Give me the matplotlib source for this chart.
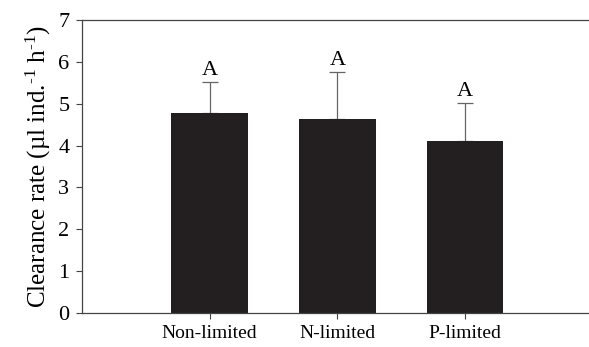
import matplotlib
matplotlib.use('Agg')
import matplotlib.pyplot as plt
import numpy as np

plt.rcParams['font.family'] = 'Liberation Serif'
plt.rcParams['mathtext.fontset'] = 'custom'
plt.rcParams['mathtext.rm'] = 'Liberation Serif'
plt.rcParams['mathtext.it'] = 'Liberation Serif:italic'

categories = ['Non-limited', 'N-limited', 'P-limited']
rates = [4.77, 4.63, 4.12]
errors = [0.74, 1.12, 0.89]
letters = ['A', 'A', 'A']

fig = plt.figure(figsize=(5.89, 3.47), dpi=100)
ax = fig.add_axes([0.139, 0.098, 0.861, 0.844])

x = np.arange(len(categories))
ax.bar(x, rates, width=0.6, color='#231f20', zorder=2)
ax.errorbar(x, rates, yerr=[np.zeros(len(rates)), errors], fmt='none',
            ecolor='#666666', elinewidth=0.9, capsize=6, capthick=0.9, zorder=1)

for xi, r, e, s in zip(x, rates, errors, letters):
    ax.text(xi, r + e + 0.06, s, ha='center', va='bottom', fontsize=16)

ax.set_xlim(-1.0, 2.97)
ax.set_ylim(0, 7)
ax.set_yticks(range(8))
ax.set_xticks(x)
ax.set_xticklabels(categories, fontsize=14)
ax.tick_params(axis='y', labelsize=16, length=4, width=0.8, color='#444444', pad=5)
ax.tick_params(axis='x', length=4, width=0.8, color='#444444', pad=5)
ax.set_ylabel('Clearance rate (µl ind.$^{\\text{-}1}$ h$^{\\text{-}1}$)', fontsize=18, labelpad=4)

ax.spines['right'].set_visible(False)
for sp in ['left', 'top', 'bottom']:
    ax.spines[sp].set_color('#444444')
    ax.spines[sp].set_linewidth(0.9)

fig.savefig('out.png', dpi=100)
